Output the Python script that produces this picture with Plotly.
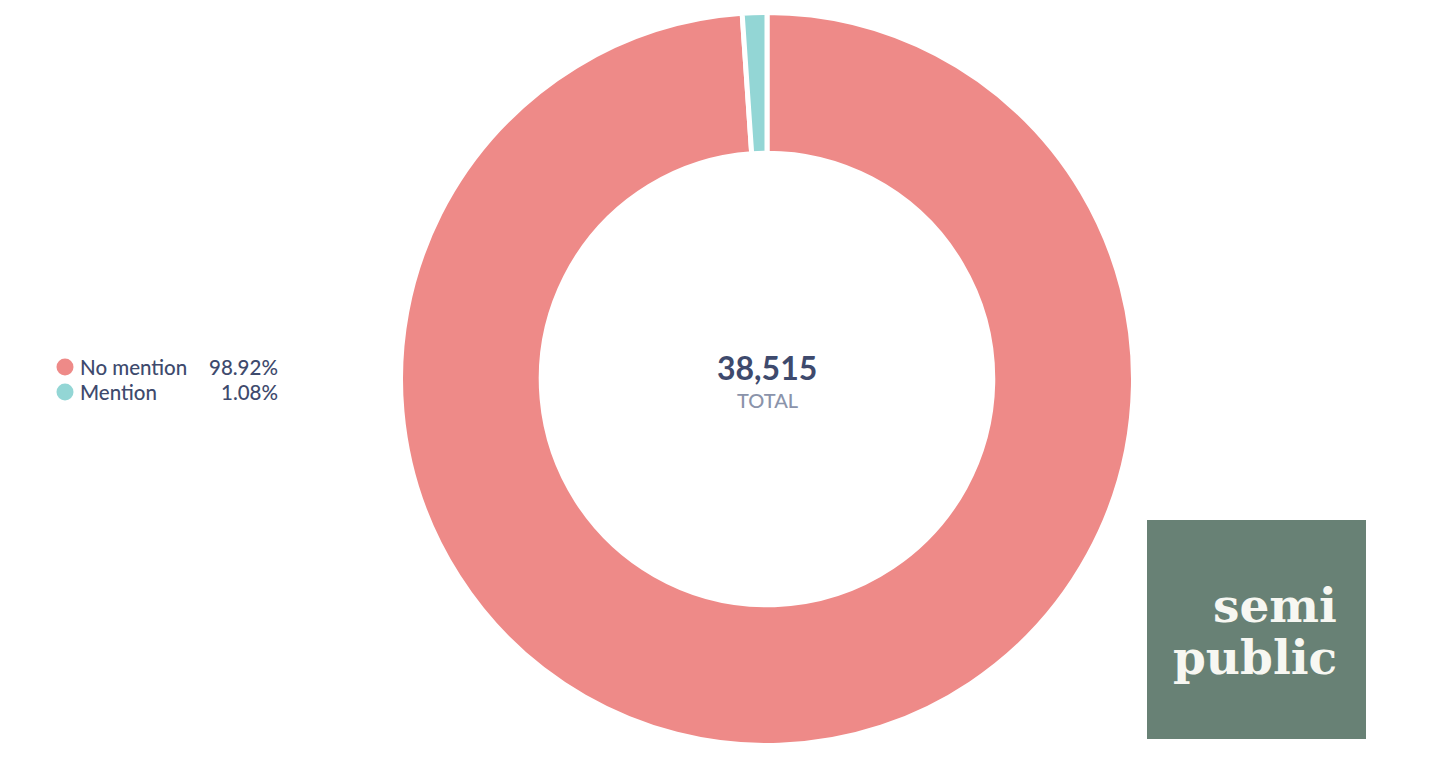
import plotly.graph_objects as go

labels = ["No mention", "Mention"]
shares = [98.92, 1.08]
colors = ["#EE8A88", "#93D6D5"]
total = 38515

W, H = 1456, 762
OFF = 8  # page body margin
cx, cy, r = 767, 379, 366.5


def px(x):
    return (x - OFF) / W


def py(y):
    return 1 - (y - OFF) / H


fig = go.Figure(
    go.Pie(
        labels=labels,
        values=shares,
        hole=0.616,
        sort=False,
        direction="clockwise",
        rotation=0,
        marker=dict(colors=colors, line=dict(color="white", width=5)),
        textinfo="none",
        hoverinfo="label+percent",
        domain=dict(x=[px(cx - r), px(cx + r)], y=[py(cy + r), py(cy - r)]),
        showlegend=False,
    )
)

font = "Lato, 'Open Sans', sans-serif"
navy = "#3E4A6D"

# legend drawn by hand: dot, label, share
for i, (lab, val, col) in enumerate(zip(labels, shares, colors)):
    y = 367 + i * 25
    fig.add_shape(
        type="circle", xref="paper", yref="paper",
        x0=px(56.5), x1=px(73.5), y0=py(y + 8.5), y1=py(y - 8.5),
        fillcolor=col, line=dict(width=0),
    )
    fig.add_annotation(
        x=px(78), y=py(y), xref="paper", yref="paper",
        text=lab, showarrow=False, xanchor="left", yanchor="middle",
        font=dict(family=font, size=20.5, color=navy, weight=500),
    )
    fig.add_annotation(
        x=px(280), y=py(y), xref="paper", yref="paper",
        text=f"{val:.2f}%", showarrow=False, xanchor="right", yanchor="middle",
        font=dict(family=font, size=20.5, color=navy, weight=500),
    )

# centre total
fig.add_annotation(
    x=px(cx), y=py(367), xref="paper", yref="paper",
    text=f"<b>{total:,}</b>", showarrow=False, xanchor="center", yanchor="middle",
    font=dict(family=font, size=32, color=navy),
)
fig.add_annotation(
    x=px(cx), y=py(400), xref="paper", yref="paper",
    text="TOTAL", showarrow=False, xanchor="center", yanchor="middle",
    font=dict(family=font, size=20, color="#8A93AA", weight=500),
)

# logo box
fig.add_shape(
    type="rect", xref="paper", yref="paper",
    x0=px(1147), x1=px(1366), y0=py(739), y1=py(520),
    fillcolor="#688175", line=dict(width=0), layer="above",
)
fs = 47
for word, base in [("semi", 621), ("public", 673)]:
    fig.add_annotation(
        x=px(1339), y=py(base + 0.29 * fs), xref="paper", yref="paper",
        text=f"<b>{word}</b>", showarrow=False, xanchor="right", yanchor="bottom",
        font=dict(family="'DejaVu Serif', serif", size=fs, color="#F7F7F2"),
    )

fig.update_layout(
    width=W, height=H,
    margin=dict(l=0, r=0, t=0, b=0),
    paper_bgcolor="white",
    plot_bgcolor="white",
)

fig.write_html("out.html")
